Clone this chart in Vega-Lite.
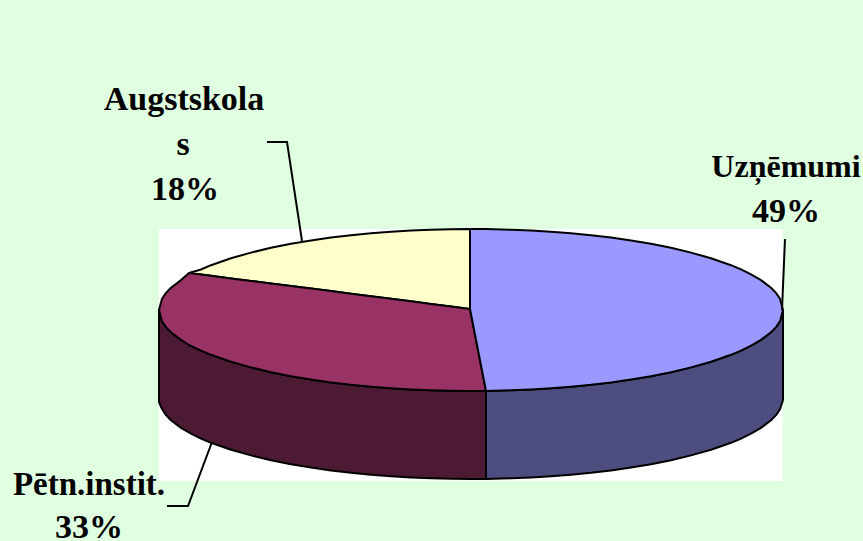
{
"$schema":"https://vega.github.io/schema/vega-lite/v6.json",
"width":863,"height":541,
"autosize":{"type":"none"},
"padding":0,
"background":"#E0FFE0",
"view":{"stroke":null},
"encoding":{
 "x":{"field":"x","type":"quantitative","axis":null,"scale":{"domain":[0,863],"nice":false,"zero":false}},
 "y":{"field":"y","type":"quantitative","axis":null,"scale":{"domain":[541,0],"nice":false,"zero":false}}
},
"layer":[
{"data":{"values":[{"x":159,"x2":783,"y":229,"y2":481}]},
 "mark":{"type":"rect","fill":"#FFFFFF"},
 "encoding":{"x2":{"field":"x2"},"y2":{"field":"y2"}}},
{"data":{"values":[
{"s":"Pētn.instit. side","x":159,"y":310,"y2":402},{"s":"Pētn.instit. side","x":162,"y":321.2,"y2":409},{"s":"Pētn.instit. side","x":166,"y":327.1,"y2":415.1},{"s":"Pētn.instit. side","x":171,"y":332.2,"y2":420.2},{"s":"Pētn.instit. side","x":181,"y":339.9,"y2":427.9},{"s":"Pētn.instit. side","x":191,"y":345.7,"y2":433.7},{"s":"Pētn.instit. side","x":201,"y":350.6,"y2":438.6},{"s":"Pētn.instit. side","x":211,"y":354.8,"y2":442.8},{"s":"Pētn.instit. side","x":231,"y":361.8,"y2":449.8},{"s":"Pētn.instit. side","x":251,"y":367.4,"y2":455.4},{"s":"Pētn.instit. side","x":271,"y":372.2,"y2":460.2},{"s":"Pētn.instit. side","x":291,"y":376.2,"y2":464.2},{"s":"Pētn.instit. side","x":311,"y":379.5,"y2":467.5},{"s":"Pētn.instit. side","x":331,"y":382.4,"y2":470.4},{"s":"Pētn.instit. side","x":351,"y":384.8,"y2":472.8},{"s":"Pētn.instit. side","x":371,"y":386.7,"y2":474.7},{"s":"Pētn.instit. side","x":391,"y":388.3,"y2":476.3},{"s":"Pētn.instit. side","x":411,"y":389.5,"y2":477.5},{"s":"Pētn.instit. side","x":431,"y":390.3,"y2":478.3},{"s":"Pētn.instit. side","x":451,"y":390.8,"y2":478.8},{"s":"Pētn.instit. side","x":471,"y":391,"y2":479},{"s":"Pētn.instit. side","x":486,"y":391,"y2":479},
{"s":"Uzņēmumi side","x":486,"y":391,"y2":479},{"s":"Uzņēmumi side","x":511,"y":390.3,"y2":478.3},{"s":"Uzņēmumi side","x":531,"y":389.5,"y2":477.5},{"s":"Uzņēmumi side","x":551,"y":388.3,"y2":476.3},{"s":"Uzņēmumi side","x":571,"y":386.7,"y2":474.7},{"s":"Uzņēmumi side","x":591,"y":384.8,"y2":472.8},{"s":"Uzņēmumi side","x":611,"y":382.4,"y2":470.4},{"s":"Uzņēmumi side","x":631,"y":379.5,"y2":467.5},{"s":"Uzņēmumi side","x":651,"y":376.2,"y2":464.2},{"s":"Uzņēmumi side","x":671,"y":372.2,"y2":460.2},{"s":"Uzņēmumi side","x":691,"y":367.4,"y2":455.4},{"s":"Uzņēmumi side","x":711,"y":361.8,"y2":449.8},{"s":"Uzņēmumi side","x":731,"y":354.8,"y2":442.8},{"s":"Uzņēmumi side","x":741,"y":350.6,"y2":438.6},{"s":"Uzņēmumi side","x":751,"y":345.7,"y2":433.7},{"s":"Uzņēmumi side","x":761,"y":339.9,"y2":427.9},{"s":"Uzņēmumi side","x":771,"y":332.2,"y2":420.2},{"s":"Uzņēmumi side","x":776,"y":327.1,"y2":415.1},{"s":"Uzņēmumi side","x":780,"y":321.2,"y2":409.2},{"s":"Uzņēmumi side","x":783,"y":310,"y2":400},
{"s":"Augstskolas","x":189,"y":273,"y2":273},{"s":"Augstskolas","x":201,"y":269.5,"y2":274.5},{"s":"Augstskolas","x":211,"y":265.2,"y2":275.8},{"s":"Augstskolas","x":231,"y":258.2,"y2":278.4},{"s":"Augstskolas","x":251,"y":252.6,"y2":280.9},{"s":"Augstskolas","x":271,"y":247.8,"y2":283.5},{"s":"Augstskolas","x":291,"y":243.8,"y2":286},{"s":"Augstskolas","x":311,"y":240.5,"y2":288.6},{"s":"Augstskolas","x":331,"y":237.6,"y2":291.1},{"s":"Augstskolas","x":351,"y":235.2,"y2":293.7},{"s":"Augstskolas","x":371,"y":233.3,"y2":296.2},{"s":"Augstskolas","x":391,"y":231.7,"y2":298.8},{"s":"Augstskolas","x":411,"y":230.5,"y2":301.3},{"s":"Augstskolas","x":431,"y":229.7,"y2":303.9},{"s":"Augstskolas","x":451,"y":229.2,"y2":306.4},{"s":"Augstskolas","x":470,"y":229,"y2":309},
{"s":"Pētn.instit.","x":159,"y":310,"y2":310},{"s":"Pētn.instit.","x":162,"y":298.8,"y2":321.2},{"s":"Pētn.instit.","x":166,"y":292.9,"y2":327.1},{"s":"Pētn.instit.","x":171,"y":287.8,"y2":332.2},{"s":"Pētn.instit.","x":181,"y":280.1,"y2":339.9},{"s":"Pētn.instit.","x":189,"y":273,"y2":345},{"s":"Pētn.instit.","x":201,"y":274.5,"y2":350.6},{"s":"Pētn.instit.","x":211,"y":275.8,"y2":354.8},{"s":"Pētn.instit.","x":231,"y":278.4,"y2":361.8},{"s":"Pētn.instit.","x":251,"y":280.9,"y2":367.4},{"s":"Pētn.instit.","x":271,"y":283.5,"y2":372.2},{"s":"Pētn.instit.","x":291,"y":286,"y2":376.2},{"s":"Pētn.instit.","x":311,"y":288.6,"y2":379.5},{"s":"Pētn.instit.","x":331,"y":291.1,"y2":382.4},{"s":"Pētn.instit.","x":351,"y":293.7,"y2":384.8},{"s":"Pētn.instit.","x":371,"y":296.2,"y2":386.7},{"s":"Pētn.instit.","x":391,"y":298.8,"y2":388.3},{"s":"Pētn.instit.","x":411,"y":301.3,"y2":389.5},{"s":"Pētn.instit.","x":431,"y":303.9,"y2":390.3},{"s":"Pētn.instit.","x":451,"y":306.4,"y2":390.8},{"s":"Pētn.instit.","x":470,"y":309,"y2":391},{"s":"Pētn.instit.","x":486,"y":391,"y2":391},
{"s":"Uzņēmumi","x":470,"y":229,"y2":309},{"s":"Uzņēmumi","x":486,"y":229.1,"y2":391},{"s":"Uzņēmumi","x":511,"y":229.7,"y2":390.3},{"s":"Uzņēmumi","x":531,"y":230.5,"y2":389.5},{"s":"Uzņēmumi","x":551,"y":231.7,"y2":388.3},{"s":"Uzņēmumi","x":571,"y":233.3,"y2":386.7},{"s":"Uzņēmumi","x":591,"y":235.2,"y2":384.8},{"s":"Uzņēmumi","x":611,"y":237.6,"y2":382.4},{"s":"Uzņēmumi","x":631,"y":240.5,"y2":379.5},{"s":"Uzņēmumi","x":651,"y":243.8,"y2":376.2},{"s":"Uzņēmumi","x":671,"y":247.8,"y2":372.2},{"s":"Uzņēmumi","x":691,"y":252.6,"y2":367.4},{"s":"Uzņēmumi","x":711,"y":258.2,"y2":361.8},{"s":"Uzņēmumi","x":731,"y":265.2,"y2":354.8},{"s":"Uzņēmumi","x":741,"y":269.4,"y2":350.6},{"s":"Uzņēmumi","x":751,"y":274.3,"y2":345.7},{"s":"Uzņēmumi","x":761,"y":280.1,"y2":339.9},{"s":"Uzņēmumi","x":771,"y":287.8,"y2":332.2},{"s":"Uzņēmumi","x":776,"y":292.9,"y2":327.1},{"s":"Uzņēmumi","x":780,"y":298.8,"y2":321.2},{"s":"Uzņēmumi","x":783,"y":310,"y2":310}
]},
 "mark":{"type":"area","orient":"vertical","stroke":"#000000","strokeWidth":2,"strokeJoin":"round","opacity":1},
 "encoding":{"y2":{"field":"y2"},
  "color":{"field":"s","type":"nominal","legend":null,
   "scale":{"domain":["Pētn.instit. side","Uzņēmumi side","Augstskolas","Pētn.instit.","Uzņēmumi"],"range":["#4D1A33","#4D4D80","#FFFFCC","#993366","#9999FF"]}}}},
{"data":{"values":[
{"l":"a","o":1,"x":267,"y":142},{"l":"a","o":2,"x":287,"y":142},{"l":"a","o":3,"x":302,"y":241},
{"l":"b","o":1,"x":785,"y":239},{"l":"b","o":2,"x":782,"y":310},
{"l":"c","o":1,"x":167,"y":506},{"l":"c","o":2,"x":188,"y":506},{"l":"c","o":3,"x":212,"y":442}
]},
 "mark":{"type":"line","stroke":"#000000","strokeWidth":2},
 "encoding":{"detail":{"field":"l"},"order":{"field":"o","type":"quantitative"}}},
{"data":{"values":[
{"t":"Augstskola","x":184,"y":110},{"t":"s","x":183,"y":155},{"t":"18%","x":185,"y":200},
{"t":"Uzņēmumi","x":786,"y":177},{"t":"49%","x":786,"y":222},
{"t":"Pētn.instit.","x":89,"y":495},{"t":"33%","x":89,"y":538}
]},
 "mark":{"type":"text","font":"Liberation Serif","fontWeight":"bold","align":"center","baseline":"alphabetic","color":"#000000"},
 "encoding":{"text":{"field":"t"},
  "size":{"field":"t","type":"nominal","legend":null,
   "scale":{"type":"ordinal","domain":["Augstskola","s","18%","Uzņēmumi","49%","Pētn.instit.","33%"],"range":[34,34,34,32,34,33,34]}}}}
]
}
